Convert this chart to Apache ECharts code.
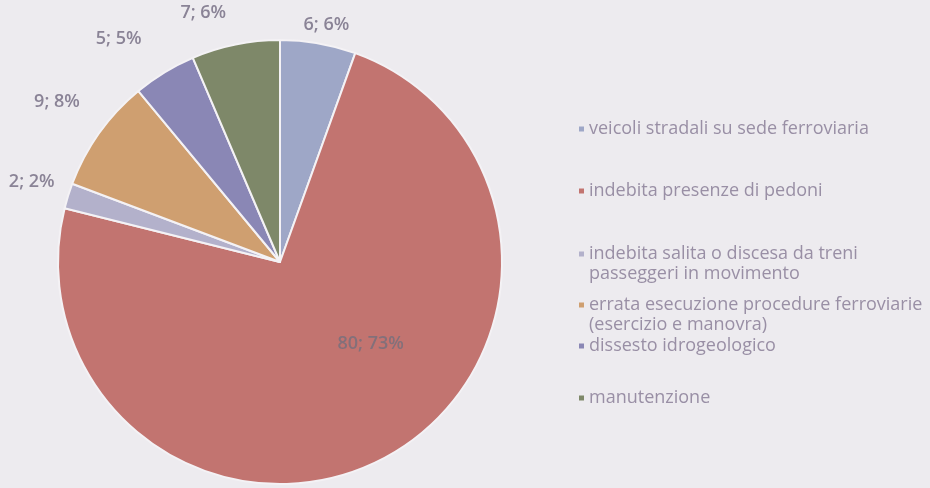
<!DOCTYPE html>
<html>
<head>
<meta charset="utf-8">
<script src="https://cdn.jsdelivr.net/npm/echarts@6/dist/echarts.min.js"></script>
<style>
  html, body { margin: 0; padding: 0; background: #edebef; }
  #chart { width: 930px; height: 488px; }
</style>
</head>
<body>
<div id="chart"></div>
<script>
// Causes of railway accidents (count per cause)
const categories = [
  'veicoli stradali su sede ferroviaria',
  'indebita presenze di pedoni',
  'indebita salita o discesa da treni\npasseggeri in movimento',
  'errata esecuzione procedure ferroviarie\n(esercizio e manovra)',
  'dissesto idrogeologico',
  'manutenzione'
];
const counts = [6, 80, 2, 9, 5, 7];

// Slice colours, in category order
const sliceColors = ['#9ea7c7', '#c27470', '#b3b1cb', '#cf9f70', '#8a87b5', '#7e8869'];

// Vertical placement of each legend entry
const legendTops = [114, 176, 239, 290, 331, 383];

// Small shifts that keep the outer value labels clear of each other
const labelNudges = [[-3, 17], [0, 0], [3, -3], [-8, -10], [-22, -3], [-20, 4]];

const labelColor = '#8a8396';
const legendTextColor = '#998fa5';
const LINE_H = 20;

const chart = echarts.init(document.getElementById('chart'), null, { renderer: 'canvas' });

// Legend swatch sits beside the first text line, even for two-line entries
function swatchIcon(lines) {
  const h = LINE_H * lines;
  return 'path://M0,0L0,0M0,7.5h5v5h-5zM0,' + h + 'L0,' + h;
}

const legends = categories.map((name, i) => {
  const lines = name.split('\n').length;
  return {
    data: [name],
    orient: 'vertical',
    left: 574,
    top: legendTops[i],
    icon: swatchIcon(lines),
    itemWidth: 5,
    itemHeight: LINE_H * lines,
    itemGap: 0,
    selectedMode: false,
    itemStyle: { borderWidth: 0 },
    textStyle: {
      color: legendTextColor,
      fontFamily: 'Open Sans',
      fontSize: 18,
      lineHeight: LINE_H
    }
  };
});

const pieData = categories.map((name, i) => {
  const item = { name: name, value: counts[i], itemStyle: { color: sliceColors[i] } };
  if (i === 1) {
    // the large slice carries its label inside
    item.label = { position: 'inside', offset: [37, -19], color: '#83707a' };
  }
  return item;
});

chart.setOption({
  backgroundColor: '#edebef',
  animation: false,
  legend: legends,
  series: [{
    type: 'pie',
    center: [280, 262],
    radius: [0, 222],
    startAngle: 90,
    clockwise: true,
    avoidLabelOverlap: false,
    itemStyle: { borderColor: '#f4f2f5', borderWidth: 2 },
    label: {
      show: true,
      position: 'outside',
      color: labelColor,
      fontFamily: 'Open Sans',
      fontWeight: 600,
      fontSize: 18,
      formatter: p => p.value + '; ' + Math.round(p.percent) + '%'
    },
    labelLine: { show: false, length: 36, length2: 0 },
    labelLayout: p => {
      const n = labelNudges[p.dataIndex];
      return p.dataIndex === 1
        ? {}
        : { align: 'center', verticalAlign: 'middle', dx: n[0], dy: n[1] };
    },
    data: pieData
  }]
});
</script>
</body>
</html>
